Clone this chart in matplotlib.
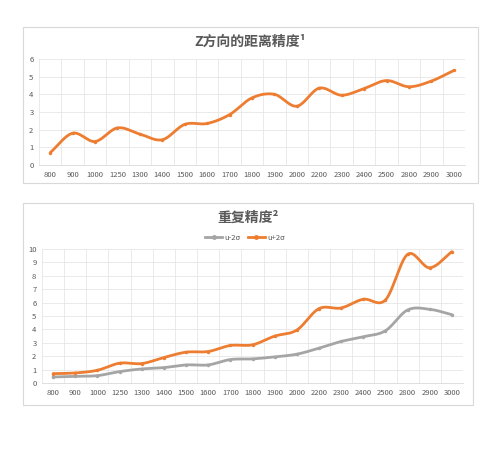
import numpy as np
import matplotlib.pyplot as plt
from matplotlib.patches import Rectangle

plt.rcParams['font.family'] = ['Noto Sans CJK SC', 'DejaVu Sans']

categories = ['800', '900', '1000', '1250', '1300', '1400', '1500', '1600', '1700', '1800',
              '1900', '2000', '2200', '2300', '2400', '2500', '2800', '2900', '3000']
z_precision = [0.7, 1.8, 1.33, 2.1, 1.75, 1.43, 2.3, 2.35, 2.85, 3.8,
               4.0, 3.33, 4.35, 3.95, 4.33, 4.78, 4.43, 4.75, 5.35]
u_minus_2s = [0.45, 0.5, 0.55, 0.85, 1.05, 1.15, 1.35, 1.35, 1.75, 1.8,
              1.95, 2.15, 2.6, 3.1, 3.45, 3.9, 5.45, 5.5, 5.1]
u_plus_2s = [0.7, 0.75, 0.95, 1.48, 1.45, 1.9, 2.3, 2.35, 2.8, 2.85,
             3.5, 3.95, 5.55, 5.6, 6.25, 6.2, 9.6, 8.6, 9.8]

ORANGE = '#ED7D31'
GRAY = '#A5A5A5'
TXT = '#595959'
GRID = '#E6E6E6'


def smooth(y, n=20):
    # Catmull-Rom style smoothing like Excel's smoothed line
    x = np.arange(len(y), dtype=float)
    y = np.asarray(y, dtype=float)
    px = np.concatenate([[2 * x[0] - x[1]], x, [2 * x[-1] - x[-2]]])
    py = np.concatenate([[2 * y[0] - y[1]], y, [2 * y[-1] - y[-2]]])
    xs, ys = [], []
    for i in range(1, len(px) - 2):
        t = np.linspace(0, 1, n, endpoint=False)
        for arr, out in ((px, xs), (py, ys)):
            p0, p1, p2, p3 = arr[i - 1], arr[i], arr[i + 1], arr[i + 2]
            out.append(0.5 * ((2 * p1) + (-p0 + p2) * t
                              + (2 * p0 - 5 * p1 + 4 * p2 - p3) * t ** 2
                              + (-p0 + 3 * p1 - 3 * p2 + p3) * t ** 3))
    xs.append([x[-1]])
    ys.append([y[-1]])
    return np.concatenate(xs), np.concatenate(ys)


def style_axes(ax, ymax, ystep):
    n = len(categories)
    ax.set_xlim(-0.5, n - 0.5)
    ax.set_ylim(0, ymax)
    ax.set_xticks(range(n))
    ax.set_xticklabels(categories)
    ax.set_xticks(np.arange(-0.5, n, 1), minor=True)
    ax.set_yticks(np.arange(0, ymax + 0.1, ystep))
    ax.tick_params(axis='both', which='both', length=0, labelsize=5.5, colors=TXT, pad=4)
    ax.grid(True, which='minor', axis='x', color=GRID, linewidth=0.6)
    ax.grid(True, which='major', axis='y', color=GRID, linewidth=0.6)
    ax.set_axisbelow(True)
    for s in ax.spines.values():
        s.set_visible(False)
    ax.spines['bottom'].set_visible(True)
    ax.spines['bottom'].set_color('#D9D9D9')
    ax.spines['bottom'].set_linewidth(0.6)


def plot_series(ax, y, color, label=None):
    xs, ys = smooth(y)
    ax.plot(xs, ys, color=color, linewidth=2.0, solid_capstyle='round', label=label,
            marker=None)
    ax.plot(range(len(y)), y, linestyle='none', marker='o', markersize=2.5,
            color=color, markeredgewidth=0)


fig = plt.figure(figsize=(4.86, 4.5), dpi=100)

# chart boxes
fig.patches.append(Rectangle((23 / 486, 1 - 183 / 450), 455 / 486, 156 / 450,
                             transform=fig.transFigure, fill=False,
                             edgecolor='#D9D9D9', linewidth=0.8))
fig.patches.append(Rectangle((23 / 486, 1 - 405 / 450), 450 / 486, 202 / 450,
                             transform=fig.transFigure, fill=False,
                             edgecolor='#D9D9D9', linewidth=0.8))

# top chart
ax1 = fig.add_axes([39 / 486, 1 - 165 / 450, 426 / 486, 106 / 450])
style_axes(ax1, 6, 1)
plot_series(ax1, z_precision, ORANGE)
fig.text(250 / 486, 1 - 42 / 450, 'Z方向的距离精度¹', ha='center', va='center',
         fontsize=10, fontweight='bold', color=TXT)

# bottom chart
ax2 = fig.add_axes([42 / 486, 1 - 383 / 450, 421 / 486, 134 / 450])
style_axes(ax2, 10, 1)
plot_series(ax2, u_minus_2s, GRAY, 'u-2σ')
plot_series(ax2, u_plus_2s, ORANGE, 'u+2σ')
fig.text(248 / 486, 1 - 218 / 450, '重复精度²', ha='center', va='center',
         fontsize=10, fontweight='bold', color=TXT)

from matplotlib.lines import Line2D
handles = [Line2D([], [], color=GRAY, linewidth=2, marker='o', markersize=2.5),
           Line2D([], [], color=ORANGE, linewidth=2, marker='o', markersize=2.5)]
fig.legend(handles, ['u-2σ', 'u+2σ'], loc='center', bbox_to_anchor=(245 / 486, 1 - 238 / 450),
           ncol=2, frameon=False, fontsize=5.5, labelcolor=TXT, handlelength=2.2,
           handletextpad=0.3, columnspacing=1.0)

fig.savefig('out.png', dpi=100, facecolor='white')
